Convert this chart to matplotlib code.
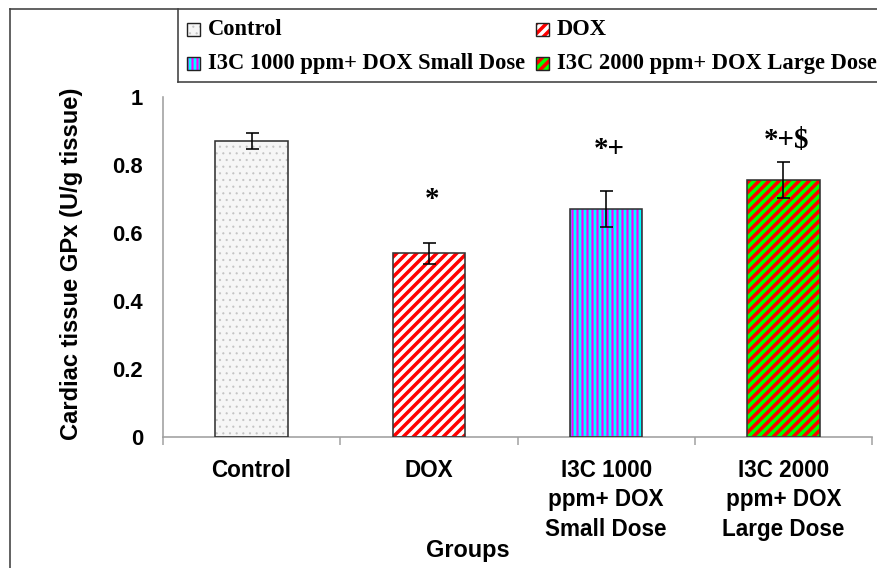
import matplotlib
matplotlib.use("Agg")
import matplotlib.pyplot as plt
from matplotlib.patches import Rectangle
from matplotlib.lines import Line2D

# ---------------- data ----------------
groups = ["Control", "DOX", "I3C 1000\nppm+ DOX\nSmall Dose", "I3C 2000\nppm+ DOX\nLarge Dose"]
legend_labels = ["Control", "DOX", "I3C 1000 ppm+ DOX Small Dose", "I3C 2000 ppm+ DOX Large Dose"]
values = [0.871, 0.540, 0.671, 0.756]
errors = [0.023, 0.031, 0.052, 0.052]
marks = ["", "*", "*+", "*+$"]
mark_y = [None, 0.700, 0.845, 0.872]
yticks = [0, 0.2, 0.4, 0.6, 0.8, 1]
ytick_labels = ["0", "0.2", "0.4", "0.6", "0.8", "1"]

# ---------------- styles ----------------
face = ["#f6f6f6", "white", "#00ffff", "#00ff00"]
hatch_col = ["#c4c4c4", "#ff0000", "#ff00ff", "#ff0000"]
hatches = ["...", "////", "||||", "////"]
hatch_lw = [0.5, 2.1, 1.3, 2.1]

DPI = 120
W, H = 877, 568
def pt(px):
    return px * 72.0 / DPI
def fx(x):
    return x / W
def fy(y):
    return 1 - y / H

SANS = "Liberation Sans"
SERIF = "Liberation Serif"

fig = plt.figure(figsize=(W / DPI, H / DPI), dpi=DPI)
fig.patch.set_facecolor("white")
ax = fig.add_axes([fx(163), fy(437), fx(872) - fx(163), fy(97) - fy(437)])

x = list(range(len(values)))
bw = 0.41
for i in x:
    with plt.rc_context({"hatch.linewidth": hatch_lw[i]}):
        b = ax.bar(i, values[i], width=bw, color=face[i], edgecolor=hatch_col[i],
                   hatch=hatches[i], linewidth=0, zorder=2)
        for p in b:
            try:
                p.set_hatch_linewidth(hatch_lw[i])
            except Exception:
                pass
ax.bar(x, values, width=bw, fill=False, edgecolor="#333333", linewidth=pt(1.6), zorder=3)
ax.errorbar(x, values, yerr=errors, fmt="none", ecolor="black", elinewidth=pt(1.6),
            capsize=pt(6.5), capthick=pt(1.6), zorder=4)

for i in x:
    if marks[i]:
        ax.text(i + 0.02, mark_y[i], marks[i], ha="center", va="center",
                fontsize=pt(29), fontfamily=SERIF, fontweight="bold", color="black")

ax.set_xlim(-0.5, 3.5)
ax.set_ylim(0, 1)
ax.set_yticks(yticks)
ax.set_yticklabels(ytick_labels, fontfamily=SANS, fontweight="bold", fontsize=pt(22))
ax.set_xticks(x)
ax.set_xticklabels(groups, fontfamily=SANS, fontweight="bold", fontsize=pt(22.5),
                   linespacing=1.36)
ax.set_xticks([-0.5, 0.5, 1.5, 2.5, 3.5], minor=True)
ax.tick_params(axis="y", length=0, pad=pt(20))
ax.tick_params(axis="x", which="major", length=0, pad=pt(22))
ax.tick_params(axis="x", which="minor", length=pt(8), width=pt(1.5), color="#a0a0a0",
               direction="out")
for s in ["top", "right"]:
    ax.spines[s].set_visible(False)
for s in ["left", "bottom"]:
    ax.spines[s].set_color("#a0a0a0")
    ax.spines[s].set_linewidth(pt(1.6))

fig.text(fx(72), fy(264), "Cardiac tissue GPx (U/g tissue)", rotation=90, ha="center",
         va="center", fontfamily=SANS, fontweight="bold", fontsize=pt(23.8))
fig.text(fx(468), fy(551), "Groups", ha="center", va="center", fontfamily=SANS,
         fontweight="bold", fontsize=pt(23.5))

# ---------------- frame & legend ----------------
fc = "#404040"
fig.add_artist(Line2D([fx(10), fx(10)], [fy(9), fy(568)], transform=fig.transFigure,
                      color=fc, linewidth=pt(1.6)))
fig.add_artist(Line2D([fx(10), fx(877)], [fy(9), fy(9)], transform=fig.transFigure,
                      color=fc, linewidth=pt(1.6)))
fig.add_artist(Line2D([fx(178), fx(178)], [fy(9), fy(82)], transform=fig.transFigure,
                      color=fc, linewidth=pt(1.6)))
fig.add_artist(Line2D([fx(178), fx(877)], [fy(82), fy(82)], transform=fig.transFigure,
                      color=fc, linewidth=pt(1.6)))

sw_x = [187, 536, 187, 536]
sw_y = [23, 23, 57, 57]
tx_x = [208, 557, 208, 557]
tx_base = [35, 35, 69, 69]
for k in range(4):
    with plt.rc_context({"hatch.linewidth": hatch_lw[k]}):
        r = Rectangle((fx(sw_x[k]), fy(sw_y[k] + 13)), fx(13), 13 / H,
                      transform=fig.transFigure, facecolor=face[k],
                      edgecolor=hatch_col[k], hatch=hatches[k], linewidth=0)
        try:
            r.set_hatch_linewidth(hatch_lw[k])
        except Exception:
            pass
    fig.add_artist(r)
    fig.add_artist(Rectangle((fx(sw_x[k]), fy(sw_y[k] + 13)), fx(13), 13 / H,
                             transform=fig.transFigure, fill=False,
                             edgecolor="#222222", linewidth=pt(1.4)))
    fig.text(fx(tx_x[k]), fy(tx_base[k]), legend_labels[k], ha="left", va="baseline",
             fontfamily=SERIF, fontweight="bold", fontsize=pt(22.5), color="black")

fig.savefig("out.png", dpi=DPI)
